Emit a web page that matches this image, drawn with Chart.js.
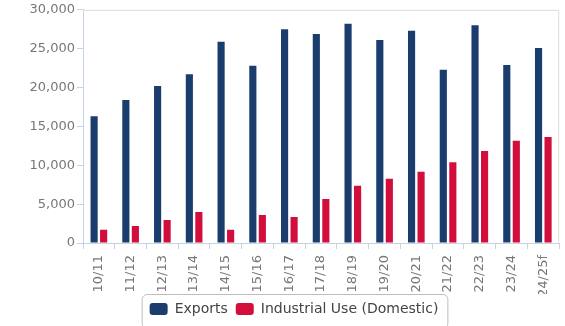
<!DOCTYPE html>
<html>
<head>
<meta charset="utf-8">
<script src="https://cdn.jsdelivr.net/npm/chart.js@4/dist/chart.umd.min.js"></script>
<style>
  html, body { margin: 0; padding: 0; background: #fff; }
  #wrap { width: 565px; height: 326px; }
</style>
</head>
<body>
<div id="wrap"><canvas id="chart" width="565" height="326"></canvas></div>
<script>
// Season labels and values (thousand tonnes)
const seasons = ['10/11', '11/12', '12/13', '13/14', '14/15', '15/16', '16/17', '17/18',
  '18/19', '19/20', '20/21', '21/22', '22/23', '23/24', '24/25f'];
const exportsData = [16300, 18400, 20200, 21700, 25900, 22800, 27500, 26900,
  28200, 26100, 27300, 22300, 28000, 22900, 25100];
const industrialData = [1700, 2200, 2950, 4000, 1700, 3600, 3350, 5650,
  7350, 8250, 9150, 10400, 11850, 13150, 13650];

const NAVY = '#1b3d6e';
const RED = '#d20f3c';
const AXIS = '#c5d3e2';
const FONT = "'DejaVu Sans', Verdana, sans-serif";

// Frame on top and right of plot area, plus box round the legend
const framePlugin = {
  id: 'frame',
  afterLayout(chart) {
    // legend sits a little right of the canvas centre
    chart.legend.left += 13;
    chart.legend.right += 13;
  },
  afterDraw(chart) {
    const ctx = chart.ctx;
    const a = chart.chartArea;
    ctx.save();
    ctx.strokeStyle = '#dcdcdc';
    ctx.lineWidth = 1;
    ctx.beginPath();
    ctx.moveTo(a.left, a.top + 0.5);
    ctx.lineTo(a.right - 0.5, a.top + 0.5);
    ctx.lineTo(a.right - 0.5, a.bottom);
    ctx.stroke();

    const boxes = chart.legend.legendHitBoxes;
    if (boxes && boxes.length) {
      const minX = Math.min(...boxes.map(b => b.left)) - 8;
      const maxX = Math.max(...boxes.map(b => b.left + b.width)) + 9;
      const top = Math.min(...boxes.map(b => b.top)) - 8;
      const bottom = top + 34;
      ctx.strokeStyle = '#bdbdbd';
      ctx.beginPath();
      ctx.roundRect(minX + 0.5, top + 0.5, maxX - minX, bottom - top, 5);
      ctx.stroke();
    }
    ctx.restore();
  }
};

new Chart(document.getElementById('chart'), {
  type: 'bar',
  data: {
    labels: seasons,
    datasets: [
      {
        label: 'Exports',
        data: exportsData,
        backgroundColor: NAVY,
        categoryPercentage: 0.6,
        barPercentage: 0.75
      },
      {
        label: 'Industrial Use (Domestic)',
        data: industrialData,
        backgroundColor: RED,
        categoryPercentage: 0.6,
        barPercentage: 0.75
      }
    ]
  },
  options: {
    responsive: false,
    animation: false,
    layout: { padding: { top: 3, right: 3, left: 0, bottom: 0 } },
    plugins: {
      tooltip: { enabled: false },
      legend: {
        position: 'bottom',
        labels: {
          color: '#444',
          font: { family: FONT, size: 14 },
          boxWidth: 18,
          boxHeight: 12,
          useBorderRadius: true,
          borderRadius: 3,
          padding: 8
        }
      }
    },
    scales: {
      x: {
        grid: {
          offset: true,
          drawOnChartArea: false,
          color: AXIS,
          tickLength: 6
        },
        border: { color: AXIS },
        ticks: {
          color: '#777',
          font: { family: FONT, size: 13 },
          minRotation: 90,
          maxRotation: 90,
          padding: 6
        },
        afterFit(scale) { scale.height = 51; }
      },
      y: {
        min: 0,
        max: 30000,
        grid: {
          drawOnChartArea: false,
          color: AXIS,
          tickLength: 6
        },
        border: { color: AXIS },
        ticks: {
          stepSize: 5000,
          color: '#777',
          font: { family: FONT, size: 13 },
          padding: 2
        },
        afterFit(scale) { scale.width = 83; }
      }
    }
  },
  plugins: [framePlugin]
});
</script>
</body>
</html>
